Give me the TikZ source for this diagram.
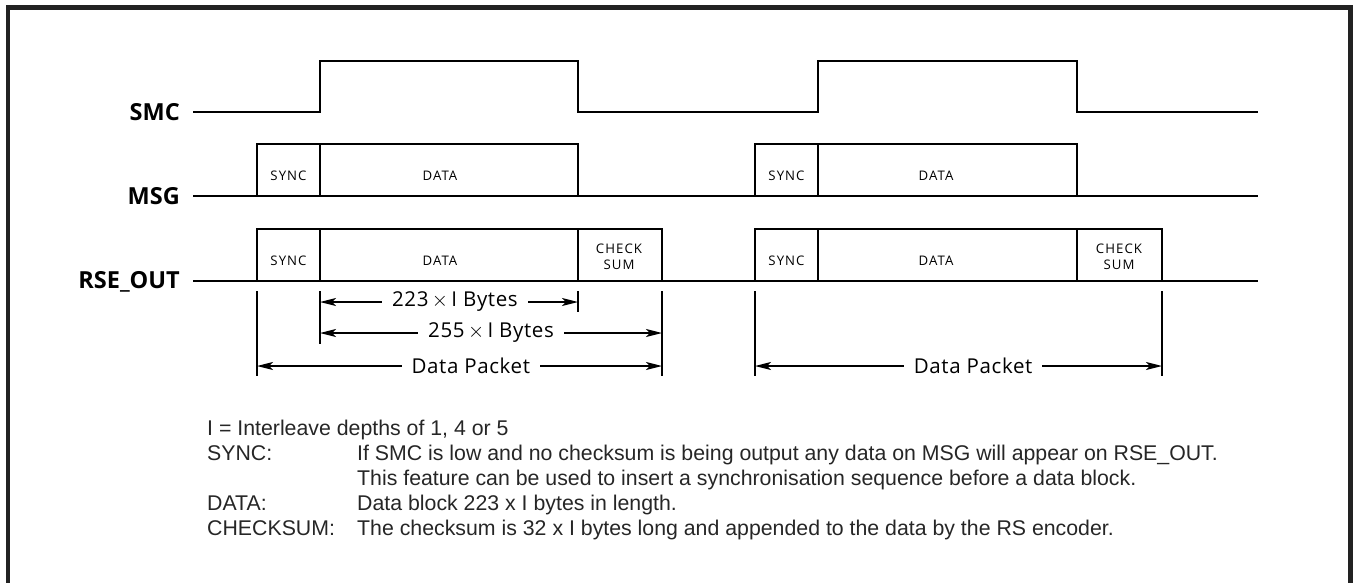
\documentclass[tikz,border=0pt]{standalone}
\usepackage{fontspec}
\setmainfont{Liberation Sans}
\newfontfamily\sigfont{Open Sans}
\newfontfamily\boxfont{Open Sans}[LetterSpace=8.0]
\newfontfamily\dimfont{Open Sans}[LetterSpace=3.0]
\usetikzlibrary{arrows.meta}
\definecolor{framegray}{HTML}{222222}
\definecolor{notegray}{HTML}{262626}
\tikzset{
  wave/.style={line width=1.9pt, line join=miter, black},
  signame/.style={anchor=base east, inner sep=0pt, font=\sigfont\bfseries\fontsize{23.5}{27}\selectfont},
  segtext/.style={inner sep=0pt, align=center, font=\boxfont\fontsize{13.2}{15.5}\selectfont},
  tickline/.style={line width=1.7pt},
  dimarrow/.style={line width=1.5pt, {Stealth[length=16pt,width=8pt,inset=4pt]}-{Stealth[length=16pt,width=8pt,inset=4pt]}},
  dimtext/.style={fill=white, inner xsep=10pt, inner ysep=1pt, font=\dimfont\fontsize{20.5}{23}\selectfont},
  notetext/.style={anchor=base west, inner sep=0pt, text=notegray, font=\fontsize{21.3}{25}\selectfont},
}
\begin{document}
\begin{tikzpicture}[x=1pt,y=-1pt]
\useasboundingbox (0,0) rectangle (1354,582);
% frame (open at the bottom)
\draw[line width=4.5pt, framegray] (8,590) -- (8,7.5) -- (1350.7,7.5) -- (1350.7,590);

% signal names
\node[signame] (smc) at (180,120) {SMC};
\node[signame] (msg) at (180,204) {MSG};
\node[signame] (rse) at (180,288.5) {RSE\_OUT};

% SMC waveform
\draw[wave] (193,112) -- (320,112) -- (320,61) -- (578,61) -- (578,112)
  -- (818,112) -- (818,61) -- (1077,61) -- (1077,112) -- (1258,112);

% MSG waveform
\draw[wave] (193,196) -- (1258,196);
\draw[wave] (257,196) -- (257,144) -- (578,144) -- (578,196);
\draw[wave] (320,144) -- (320,196);
\draw[wave] (755,196) -- (755,144) -- (1077,144) -- (1077,196);
\draw[wave] (818,144) -- (818,196);
\node[segtext] (msgsync1) at (288.5,176) {SYNC};
\node[segtext] (msgdata1) at (440,176) {DATA};
\node[segtext] (msgsync2) at (786.5,176) {SYNC};
\node[segtext] (msgdata2) at (936,176) {DATA};

% RSE_OUT waveform
\draw[wave] (193,281) -- (1258,281);
\draw[wave] (257,281) -- (257,229) -- (662,229) -- (662,281);
\draw[wave] (320,229) -- (320,281);
\draw[wave] (578,229) -- (578,281);
\draw[wave] (755,281) -- (755,229) -- (1162,229) -- (1162,281);
\draw[wave] (818,229) -- (818,281);
\draw[wave] (1077,229) -- (1077,281);
\node[segtext] (rsesync1) at (288.5,261) {SYNC};
\node[segtext] (rsedata1) at (440,261) {DATA};
\node[segtext] (rsecs1) at (619,257) {CHECK\\SUM};
\node[segtext] (rsesync2) at (786.5,261) {SYNC};
\node[segtext] (rsedata2) at (936,261) {DATA};
\node[segtext] (rsecs2) at (1119,257) {CHECK\\SUM};

% dimension ticks
\coordinate (ta) at (257,291); \coordinate (tab) at (257,376);
\coordinate (tb) at (320,291); \coordinate (tbb) at (320,344);
\coordinate (tc) at (578,291); \coordinate (tcb) at (578,312);
\coordinate (td) at (662,291); \coordinate (tdb) at (662,376);
\coordinate (te) at (755,291); \coordinate (teb) at (755,376);
\coordinate (tf) at (1162,291); \coordinate (tfb) at (1162,376);
\foreach \p/\q in {ta/tab, tb/tbb, tc/tcb, td/tdb, te/teb, tf/tfb}
  \draw[tickline] (\p) -- (\q);

% dimension arrows
\coordinate (a1l) at (320,302); \coordinate (a1r) at (578,302);
\coordinate (a2l) at (320,333); \coordinate (a2r) at (662,333);
\coordinate (a3l) at (257,366); \coordinate (a3r) at (662,366);
\coordinate (a4l) at (755,366); \coordinate (a4r) at (1162,366);
\draw[dimarrow] (a1l) -- node[dimtext, pos=0.523] (d223) {223\,$\times$\,I Bytes} (a1r);
\draw[dimarrow] (a2l) -- node[dimtext, pos=0.5] (d255) {255\,$\times$\,I Bytes} (a2r);
\draw[dimarrow] (a3l) -- node[dimtext, pos=0.528] (dp1) {Data Packet} (a3r);
\draw[dimarrow] (a4l) -- node[dimtext, pos=0.536] (dp2) {Data Packet} (a4r);

% notes
\node[notetext] (n1) at (207,435) {I = Interleave depths of 1, 4 or 5};
\node[notetext] (n2a) at (207,460) {SYNC:};
\node[notetext] (n2b) at (357,460) {If SMC is low and no checksum is being output any data on MSG will appear on RSE\_OUT.};
\node[notetext] (n3b) at (357,485) {This feature can be used to insert a synchronisation sequence before a data block.};
\node[notetext] (n4a) at (207,510) {DATA:};
\node[notetext] (n4b) at (357,510) {Data block 223 x I bytes in length.};
\node[notetext] (n5a) at (207,535) {CHECKSUM:};
\node[notetext] (n5b) at (357,535) {The checksum is 32 x I bytes long and appended to the data by the RS encoder.};
\end{tikzpicture}
\end{document}
